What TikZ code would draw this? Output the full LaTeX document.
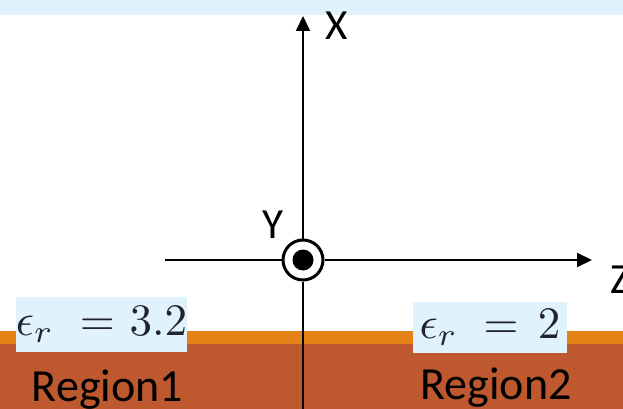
\documentclass[tikz,border=0pt]{standalone}
\usepackage{graphicx}
\usepackage{fontspec}
\setmainfont{Carlito}
\usetikzlibrary{arrows.meta}
\definecolor{topband}{RGB}{224,242,252}
\definecolor{boxblue}{RGB}{224,243,252}
\definecolor{stripe}{RGB}{227,130,22}
\definecolor{ground}{RGB}{190,88,46}
\definecolor{mathink}{RGB}{35,35,48}
\newcommand{\bigmath}[1]{\scalebox{4.5}{\fontsize{10}{12}\selectfont$#1$}}
\begin{document}
\begin{tikzpicture}[x=1pt,y=-1pt,
  axis/.style={line width=2pt,black},
  tip/.style={-{Triangle[length=15pt,width=14pt]}},
  axlabel/.style={font=\fontsize{43}{50}\selectfont,inner sep=0pt,anchor=base},
  reglabel/.style={font=\fontsize{46}{54}\selectfont,inner sep=0pt,anchor=base},
  epsbox/.style={fill=boxblue,inner sep=0pt,text=mathink}]
\useasboundingbox (0,0) rectangle (623,409);
\fill[white] (0,0) rectangle (623,409);
% top band
\fill[topband] (0,0) rectangle (623,15);
% ground layers
\fill[stripe] (0,331) rectangle (623,345);
\fill[ground] (0,344) rectangle (623,409);
% origin symbol
\node[circle,draw,line width=3pt,fill=white,minimum size=40pt,inner sep=0pt] (o) at (303,260) {};
\fill[black] (o.center) circle[radius=10.5pt];
% axes
\coordinate (xtip) at (303,16);
\coordinate (bottom) at (303,409);
\coordinate (zleft) at (165,260);
\coordinate (ztip) at (592,260);
\draw[axis,tip] (o.north) -- (xtip);
\draw[axis] (o.south) -- (bottom);
\draw[axis] (zleft) -- (o.west);
\draw[axis,tip] (o.east) -- (ztip);
% axis labels
\node[axlabel] (xl) at (337,40) {X};
\node[axlabel] (yl) at (273,238) {Y};
\node[axlabel,anchor=base west] (zl) at (610,293) {Z};
% permittivity boxes
\node[epsbox,minimum width=169pt,minimum height=55pt] (e1) at (101.5,324.5) {\bigmath{\epsilon_r\hspace{3pt}=\hspace{0.5pt}3.2}};
\node[epsbox,minimum width=154pt,minimum height=51pt] (e2) at (490,327.5) {\bigmath{\epsilon_r\hspace{3pt}=\hspace{1.5pt}2}};
% region labels
\node[reglabel] (r1) at (107.5,401) {Region1};
\node[reglabel] (r2) at (496,399) {Region2};
\end{tikzpicture}
\end{document}
